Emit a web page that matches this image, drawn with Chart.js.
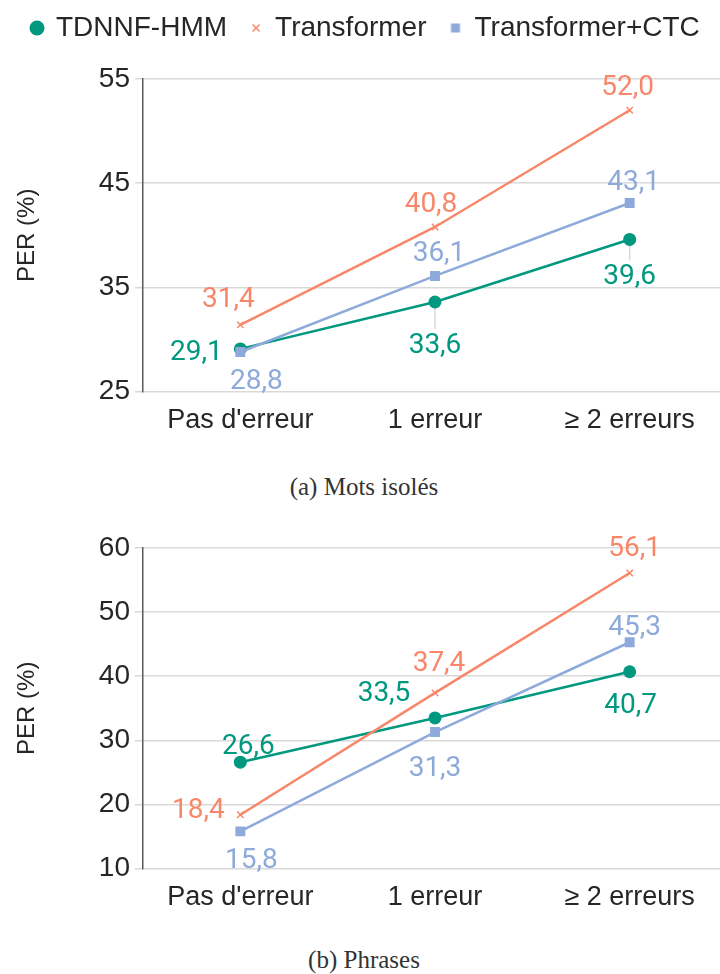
<!DOCTYPE html>
<html lang="fr">
<head>
  <meta charset="UTF-8"/>
  <title>PER par nombre d'erreurs</title>
  <style>
    body {
      margin: 0;
      background: #fff;
      width: 720px;
      height: 974px;
      overflow: hidden;
      position: relative;
    }
    .box { position: absolute; left: 0; width: 734px; }
    #boxA { top: 0; height: 450px; }
    #boxB { top: 510px; height: 417px; }
    .caption {
      position: absolute;
      left: 0;
      width: 728px;
      text-align: center;
      font-family: 'Liberation Serif', serif;
      font-size: 25px;
      color: #333;
    }
  </style>
</head>
<body>

<div class="box" id="boxA"><canvas id="chartA"></canvas></div>
<div class="caption" style="top:473px">(a) Mots isolés</div>
<div class="box" id="boxB"><canvas id="chartB"></canvas></div>
<div class="caption" style="top:946px">(b) Phrases</div>

<script src="https://cdn.jsdelivr.net/npm/chart.js"></script>
<script>
// data
const categories = ["Pas d'erreur", "1 erreur", "≥ 2 erreurs"];
const seriesNames = ["TDNNF-HMM", "Transformer", "Transformer+CTC"];

const motsTdnnf = [29.1, 33.6, 39.6];
const motsTransformer = [31.4, 40.8, 52.0];
const motsCtc = [28.8, 36.1, 43.1];

const phrasesTdnnf = [26.6, 33.5, 40.7];
const phrasesTransformer = [18.4, 37.4, 56.1];
const phrasesCtc = [15.8, 31.3, 45.3];

const motsAxis = [25, 55, 10];     // min, max, step
const phrasesAxis = [10, 60, 10];

// styles
const COLORS = ["#00987f", "#f8876a", "#8eaadb"];
const STYLES = ["circle", "crossRot", "rect"];
const RADII = [6.5, 4.5, 7];
const ORDER = [2, 1, 0];
const TEXT = "#262626";
const GRID = "#d9d9d9";

// label offsets from the point (dx, dy) per series
const motsLabelPos = [
  [[-44, 4], [0, 44], [0, 38]],
  [[-12, -25], [-4, -22], [-2, -22]],
  [[16, 30], [4, -22], [4, -20]]
];
const phrasesLabelPos = [
  [[8, -15], [-51, -24], [1, 34]],
  [[-42, -4], [4, -29], [5, -24]],
  [[11, 30], [0, 37], [5, -14]]
];
// [series, point] pairs that get a small leader line
const motsLeaders = [[0, 1], [0, 2]];

function makeMarker(i) {
  const c = document.createElement("canvas");
  c.width = 18; c.height = 18;
  const x = c.getContext("2d");
  x.fillStyle = COLORS[i];
  x.strokeStyle = COLORS[i];
  x.lineWidth = 1.5;
  if (i === 0) {
    x.beginPath(); x.arc(9, 9, 7.5, 0, Math.PI * 2); x.fill();
  } else if (i === 1) {
    x.beginPath();
    x.moveTo(5.5, 5.5); x.lineTo(12.5, 12.5);
    x.moveTo(12.5, 5.5); x.lineTo(5.5, 12.5);
    x.stroke();
  } else {
    x.fillRect(4.5, 4.5, 9, 9);
  }
  return c;
}
const markers = [0, 1, 2].map(makeMarker);

function buildDatasets(values) {
  return values.map((v, i) => ({
    label: seriesNames[i],
    data: v,
    borderColor: COLORS[i],
    backgroundColor: COLORS[i],
    borderWidth: 2.5,
    pointStyle: STYLES[i],
    pointRadius: RADII[i],
    pointBorderWidth: i === 1 ? 1.5 : 0,
    pointHoverRadius: RADII[i],
    order: ORDER[i],
    tension: 0
  }));
}

// leader lines go under the series
const leaderLines = {
  id: "leaderLines",
  beforeDatasetsDraw(chart, args, opts) {
    const ctx = chart.ctx;
    ctx.save();
    ctx.strokeStyle = GRID;
    ctx.lineWidth = 1.5;
    (opts.list || []).forEach(([i, j]) => {
      const pt = chart.getDatasetMeta(i).data[j];
      const dy = opts.pos[i][j][1];
      ctx.beginPath();
      ctx.moveTo(pt.x, pt.y + 5);
      ctx.lineTo(pt.x, pt.y + dy - 17);
      ctx.stroke();
    });
    ctx.restore();
  }
};

// draws the value labels next to each point
const valueLabels = {
  id: "valueLabels",
  afterDatasetsDraw(chart, args, opts) {
    const ctx = chart.ctx;
    ctx.save();
    ctx.font = "28px Roboto";
    ctx.textAlign = "center";
    ctx.textBaseline = "middle";
    chart.data.datasets.forEach((ds, i) => {
      const meta = chart.getDatasetMeta(i);
      meta.data.forEach((pt, j) => {
        const [dx, dy] = opts.pos[i][j];
        ctx.fillStyle = ds.borderColor;
        ctx.fillText(ds.data[j].toFixed(1).replace(".", ","), pt.x + dx, pt.y + dy);
      });
    });
    ctx.restore();
  }
};

// extra room between the legend and the plot
const legendSpace = {
  id: "legendSpace",
  beforeLayout(chart) {
    const lg = chart.legend;
    if (!lg || lg._spaced) return;
    const fit = lg.fit;
    lg.fit = function () { fit.call(this); this.height += 27; };
    lg._spaced = true;
  }
};

function makeOptions(axis, pos, leaders, withLegend) {
  return {
    responsive: true,
    maintainAspectRatio: false,
    animation: false,
    layout: { padding: withLegend ? { top: -10, left: 8, right: 0, bottom: 0 } : { top: 38, left: 8, right: 0, bottom: 0 } },
    plugins: {
      tooltip: { enabled: false },
      valueLabels: { pos: pos },
      leaderLines: { pos: pos, list: leaders },
      legend: {
        display: withLegend,
        position: "top",
        align: "start",
        labels: {
          usePointStyle: true,
          boxWidth: 10,
          boxHeight: 10,
          padding: 24,
          color: TEXT,
          font: { family: "'Liberation Sans', Arial", size: 28 },
          sort: (a, b) => a.datasetIndex - b.datasetIndex,
          generateLabels(chart) {
            const items = Chart.defaults.plugins.legend.labels.generateLabels(chart);
            items.forEach(it => { it.pointStyle = markers[it.datasetIndex]; });
            return items;
          }
        }
      }
    },
    scales: {
      x: {
        offset: true,
        grid: { display: false, drawTicks: false },
        border: { display: false },
        ticks: {
          color: TEXT,
          padding: 13,
          maxRotation: 0,
          font: { family: "'Liberation Sans', Arial", size: 27 }
        }
      },
      y: {
        min: axis[0],
        max: axis[1],
        afterFit(scale) { scale.width = 135; },
        grid: { color: GRID, lineWidth: 1.5, drawTicks: true, tickLength: 8 },
        border: { display: true, color: "#595959", width: 1.5 },
        ticks: {
          stepSize: axis[2],
          color: TEXT,
          padding: 5,
          font: { family: "'Liberation Sans', Arial", size: 28 }
        },
        title: {
          display: true,
          text: "PER (%)",
          color: TEXT,
          padding: { top: 7, bottom: 0 },
          font: { family: "'Liberation Sans', Arial", size: 24, lineHeight: 1 }
        }
      }
    }
  };
}

new Chart(document.getElementById("chartA"), {
  type: "line",
  data: { labels: categories, datasets: buildDatasets([motsTdnnf, motsTransformer, motsCtc]) },
  options: makeOptions(motsAxis, motsLabelPos, motsLeaders, true),
  plugins: [leaderLines, valueLabels, legendSpace]
});

new Chart(document.getElementById("chartB"), {
  type: "line",
  data: { labels: categories, datasets: buildDatasets([phrasesTdnnf, phrasesTransformer, phrasesCtc]) },
  options: makeOptions(phrasesAxis, phrasesLabelPos, [], false),
  plugins: [leaderLines, valueLabels]
});
</script>
</body>
</html>
